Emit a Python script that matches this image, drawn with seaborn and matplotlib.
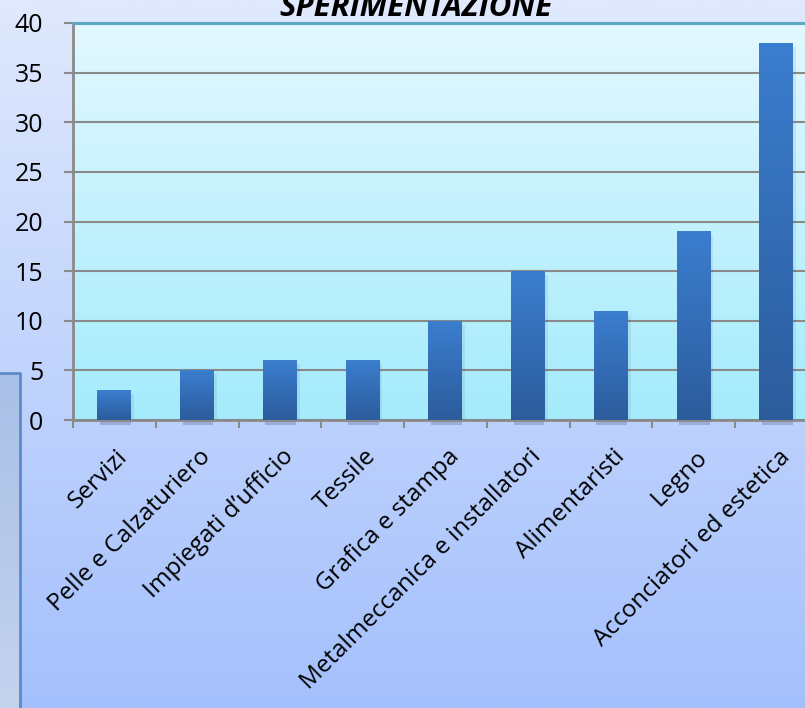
import numpy as np
import pandas as pd
import matplotlib
matplotlib.use("Agg")
import matplotlib.pyplot as plt
import seaborn as sns
from matplotlib.colors import LinearSegmentedColormap
from matplotlib.patches import Rectangle
from matplotlib.transforms import ScaledTranslation

# dati
categories = ["Servizi", "Pelle e Calzaturiero", "Impiegati d\u2019ufficio", "Tessile",
              "Grafica e stampa", "Metalmeccanica e installatori", "Alimentaristi",
              "Legno", "Acconciatori ed estetica"]
values = [3, 5, 6, 6, 10, 15, 11, 19, 38]
y_ticks = [0, 5, 10, 15, 20, 25, 30, 35, 40]
title = "SPERIMENTAZIONE"

sns.set_style("white")
plt.rcParams['font.family'] = ['Open Sans', 'DejaVu Sans']

W, H = 805, 708
fig = plt.figure(figsize=(W / 100, H / 100), dpi=100)
ramp = np.linspace(0, 1, 256).reshape(-1, 1)


def vgrad(top, bottom):
    return LinearSegmentedColormap.from_list("g", [bottom, top])


# sfondo della figura
bg = fig.add_axes([0, 0, 1, 1], zorder=-10)
bg.imshow(ramp, aspect='auto', origin='lower',
          cmap=vgrad('#e0e9fd', '#a4c0fc'), extent=[0, 1, 0, 1])
# riquadro a sinistra
bx, bh = 20 / W, 335 / H
bg.imshow(ramp, aspect='auto', origin='lower',
          cmap=vgrad('#a8bfe6', '#c4d3ee'), extent=[0, bx, 0, bh], zorder=2)
bg.plot([0, bx, bx], [bh, bh, 0], color='#5b8bc8', lw=2, zorder=3)
bg.set_xlim(0, 1)
bg.set_ylim(0, 1)
bg.axis('off')

# area del grafico
ax = fig.add_axes([73 / W, 1 - 420 / H, 9 * 82.75 / W, 397 / H])
ax.patch.set_alpha(0)
ax.imshow(ramp, aspect='auto', origin='lower',
          cmap=vgrad('#e3f8ff', '#a4ebfc'), extent=[-0.5, 8.5, 0, 40], zorder=0)

df = pd.DataFrame({'categoria': categories, 'valore': values})
sns.barplot(data=df, x='categoria', y='valore', ax=ax, width=0.41,
            color='#3a7ccc', saturation=1, zorder=3, linewidth=0, edgecolor='none')

bar_cmap = vgrad('#3b7ecf', '#2c5c9c')
for p in list(ax.patches):
    x0, y0 = p.get_x(), p.get_y()
    w, h = p.get_width(), p.get_height()
    # ombra
    ax.add_patch(Rectangle((x0 + 0.03, -0.55), w - 0.04, 0.55, color='#2a3550', alpha=0.22,
                           lw=0, zorder=2, clip_on=False))
    ax.add_patch(Rectangle((x0 + w, 0), 0.035, h - 0.4, color='#1a2a45', alpha=0.08,
                           lw=0, zorder=2))
    im = ax.imshow(ramp, aspect='auto', origin='lower',
                   cmap=bar_cmap, extent=[x0, x0 + w, y0, y0 + h], zorder=4)
    im.set_clip_path(p)

ax.set_xlim(-0.5, 8.5)
ax.set_ylim(0, 40)
ax.set_yticks(y_ticks)
ax.set_axisbelow(True)
ax.yaxis.grid(True, color='#8a8a8a', lw=1.5)
ax.set_xlabel('')
ax.set_ylabel('')

for s in ['left', 'bottom']:
    ax.spines[s].set_color('#8a8a8a')
    ax.spines[s].set_linewidth(2)
ax.spines['top'].set_color('#5ba8c0')
ax.spines['top'].set_linewidth(2.2)
ax.spines['right'].set_visible(False)

ax.tick_params(axis='y', direction='out', length=6.5, width=1.5, color='#8a8a8a',
               labelsize=18, pad=15, left=True, labelcolor='black')
ax.set_xticks(np.arange(-0.5, 9, 1), minor=True)
ax.tick_params(axis='x', which='minor', direction='out', length=6, width=1.5,
               color='#8a8a8a', bottom=True)
ax.tick_params(axis='x', which='major', length=0, labelsize=17.5, pad=24,
               labelcolor='black')
ax.set_xticks(range(len(categories)))
ax.set_xticklabels(categories, rotation=45, ha='right', va='center',
                   rotation_mode='anchor')
off = ScaledTranslation(10 / 100, 0, fig.dpi_scale_trans)
for lab in ax.get_xticklabels():
    lab.set_transform(lab.get_transform() + off)

fig.text(416 / W, 1 - 16 / H, title, ha='center', va='baseline', fontsize=22.5,
         fontweight='bold', fontstyle='italic', color='black')

fig.savefig('out.png', dpi=100)
